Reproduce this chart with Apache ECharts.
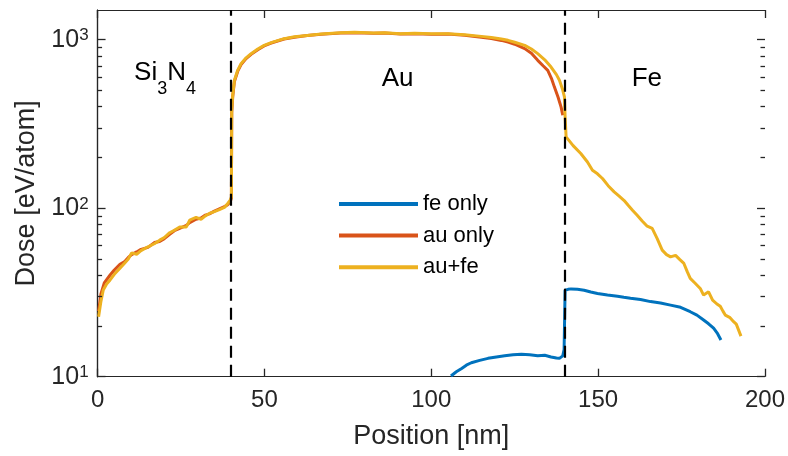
<!DOCTYPE html>
<html>
<head>
<meta charset="utf-8">
<script src="https://cdn.jsdelivr.net/npm/echarts@6/dist/echarts.min.js"></script>
<style>
  html, body { margin: 0; padding: 0; background: #fff; }
  #chart { width: 788px; height: 456px; }
</style>
</head>
<body>
<div id="chart"></div>
<script>
// Dose profiles across the Si3N4 / Au / Fe stack
const auFePos = [0.3, 1, 1.7, 2.7, 3.7, 5, 6.7, 8, 9.2, 10.2, 11.7, 13, 15.1, 17, 18.6, 20, 21.6, 23, 24.6, 26.6, 27.6, 29.5, 31, 32.3, 33.5, 35, 36.5, 38, 39, 39.8, 40.1,
  40.2, 40.5, 41, 42, 43, 44.5, 46, 48, 49.9, 52, 55.9, 59, 62.8, 67, 72.8, 77, 82.7, 86, 90.7, 95, 100, 105, 110, 115, 118, 121, 123, 125, 128, 130, 131.9, 134, 135.9, 137.5, 138.4, 139.3, 139.9,
  140.1, 140.4, 140.7, 142.5, 144.8, 146.8, 148.3, 149.8, 151.3, 153, 154.8, 156.3, 157.8, 159, 160.3, 161.7, 163.2, 164.7, 166.2, 167.7, 169.2, 170.5, 171.7, 173.2, 174.5, 175.7, 176.7, 177.6, 179, 180.6, 181.6, 183.1, 184.3, 185.6, 186.6, 187.4, 188.1, 189.4, 190.6, 191.4, 192.1, 192.8];
const auFeDose = [22.7, 28, 32.7, 35.5, 37.4, 40.5, 44, 47, 50, 54.3, 53.3, 56, 59, 61.5, 64.6, 67, 71.5, 74, 77.4, 77.4, 84.9, 88.1, 86, 90, 93.1, 95.5, 98.2, 101, 106.6, 112, 117,
  380, 470, 574, 660, 721, 780, 826, 880, 925, 960, 1014, 1040, 1060, 1080, 1100, 1105, 1094, 1100, 1086, 1090, 1083, 1085, 1070, 1046, 1030, 1008, 991, 965, 925, 880, 826, 760, 688, 620, 574, 510, 457,
  350, 265, 259, 235, 211, 188, 168, 160, 150, 136, 125, 118, 111, 104, 97.3, 90.8, 84, 78.2, 75.9, 66, 56.4, 53, 51.4, 52.5, 49.5, 47, 42, 38.3, 36, 33.4, 30.5, 31.9, 28.5, 27, 26.2, 24.5, 23.2, 22.5, 21.2, 20.5, 18.9, 17.4];

const auPos = [0.3, 1, 2, 3.7, 5, 6.7, 8, 9.2, 10.2, 11.7, 13, 15.1, 17, 18.6, 20, 21.6, 23, 24.6, 26.6, 27.6, 29.5, 31, 32.3, 33.5, 35, 36.5, 38, 39, 39.8, 40.1,
  40.2, 40.5, 41, 42, 43, 44.5, 46, 48, 49.9, 52, 55.9, 59, 62.8, 67, 72.8, 77, 82.7, 86, 90.7, 95, 100, 105, 110, 115, 118, 121, 123, 125, 128, 130, 131.9, 133.5, 134.9, 136, 136.9, 138, 138.9, 139.4];
const auDose = [24.5, 31, 36, 40, 43, 46.5, 48, 51, 53, 55, 57, 58.5, 62.5, 63.5, 66, 70, 73.5, 76, 79, 82, 86, 87.5, 91, 92.5, 96, 99, 102, 105, 110, 115,
  370, 460, 565, 650, 712, 772, 818, 872, 918, 955, 1010, 1035, 1058, 1076, 1095, 1098, 1090, 1094, 1082, 1085, 1078, 1080, 1062, 1035, 1015, 990, 968, 940, 885, 830, 754, 700, 658, 590, 523, 455, 398, 356];

const fePos = [105.9, 107.5, 109.1, 110.5, 112, 114.5, 117, 119.5, 122, 124.5, 127, 129.5, 131.9, 134, 135.9, 137.5, 138.4, 139.4, 139.8,
  140.1, 141, 141.9, 143.8, 145.8, 147.8, 149.8, 152.8, 155.8, 157.7, 159.7, 162.7, 165.7, 168.7, 171.7, 174.7, 177.6, 179.6, 181.6, 183.1, 184.6, 185.8, 186.8];
const feDose = [10.1, 10.7, 11.2, 11.7, 12.1, 12.5, 12.85, 13.1, 13.3, 13.5, 13.6, 13.5, 13.3, 13.4, 13.1, 12.9, 12.85, 13.3, 14.5,
  32.6, 33, 33.2, 33, 32.6, 31.8, 31.2, 30.5, 30, 29.6, 29.2, 28.7, 27.9, 27.4, 26.6, 25.8, 24.3, 23.2, 21.7, 20.6, 19.4, 18, 16.5];

// Layer interfaces and layer names
const interfaces = [40, 140];
const regionNames = ['Si3N4', 'Au', 'Fe'];
const regionPos = [20.2, 89.9, 164.6];
const regionDose = [586, 586, 586];

// Axis ranges and ticks
const xRange = [0, 200];
const yRange = [10, 1500];
const xTicks = [0, 50, 100, 150, 200];
const yMajor = [10, 100, 1000];
const yMinor = [20, 30, 40, 50, 60, 70, 80, 90, 200, 300, 400, 500, 600, 700, 800, 900];

const FONT = "'Liberation Sans', Arial, Helvetica, sans-serif";
const INK = '#262626';
const colors = { fe: '#0072BD', au: '#D95319', aufe: '#EDB120' };

// plot box and tick lengths (px)
const W = 788, H = 456;
const GRID = { left: 97.6, right: 19.7, top: 10, bottom: 79.3 };
const MAJOR_LEN = 8, MINOR_LEN = 4.5;
const plotW = W - GRID.left - GRID.right;
const plotH = H - GRID.top - GRID.bottom;
// tick length in data units: nm along x, decades along the log y axis
const nmPerPx = (xRange[1] - xRange[0]) / plotW;
const decPerPx = Math.log10(yRange[1] / yRange[0]) / plotH;

const zip = (xs, ys) => xs.map((x, i) => [x, ys[i]]);

const tickStyle = { color: INK, width: 1.3, type: 'solid' };
const seg = (a, b) => [{ coord: a, lineStyle: tickStyle }, { coord: b }];

// inward tick marks on all four sides of the box
const frameTicks = [];
const yTick = (v, len) => {
  frameTicks.push(seg([xRange[0], v], [xRange[0] + len * nmPerPx, v]));
  frameTicks.push(seg([xRange[1], v], [xRange[1] - len * nmPerPx, v]));
};
yMajor.forEach(v => yTick(v, MAJOR_LEN));
yMinor.forEach(v => yTick(v, MINOR_LEN));
const yStep = Math.pow(10, MAJOR_LEN * decPerPx);
xTicks.forEach(v => {
  frameTicks.push(seg([v, yRange[0]], [v, yRange[0] * yStep]));
  frameTicks.push(seg([v, yRange[1]], [v, yRange[1] / yStep]));
});

// dashed interface lines
const interfaceLines = interfaces.map(x => ({
  xAxis: x, lineStyle: { color: '#000', width: 2.2, type: [12, 7] }
}));

const regionLabel = (name) => {
  if (name === 'Si3N4') return '{n|Si}{s|3}{n|N}{s|4}';
  return '{m|' + name + '}';
};

const axisLine = { show: true, lineStyle: { color: INK, width: 1.2 } };

const chart = echarts.init(document.getElementById('chart'));

chart.setOption({
  animation: false,
  backgroundColor: '#fff',
  textStyle: { fontFamily: FONT },
  grid: GRID,
  legend: {
    orient: 'vertical', left: 334, top: 188,
    data: ['fe only', 'au only', 'au+fe'],
    itemWidth: 79, itemHeight: 4, itemGap: 9.6,
    icon: 'rect',
    textStyle: { fontFamily: FONT, fontSize: 22, color: '#000', lineHeight: 22 }
  },
  xAxis: [
    {
      type: 'value', min: xRange[0], max: xRange[1], interval: 50, position: 'bottom',
      splitLine: { show: false }, axisLine: axisLine, axisTick: { show: false },
      axisLabel: { show: true, fontSize: 24, color: INK, margin: 12, fontFamily: FONT },
      name: 'Position [nm]', nameLocation: 'middle', nameGap: 46,
      nameTextStyle: { fontSize: 27, color: INK, fontFamily: FONT }
    },
    {
      type: 'value', min: xRange[0], max: xRange[1], interval: 50, position: 'top',
      splitLine: { show: false }, axisLine: axisLine, axisTick: { show: false }, axisLabel: { show: false }
    }
  ],
  yAxis: [
    {
      type: 'log', logBase: 10, min: yRange[0], max: yRange[1], position: 'left',
      splitLine: { show: false }, minorTick: { show: false },
      axisLine: axisLine, axisTick: { show: false },
      axisLabel: {
        show: true, margin: 9, showMaxLabel: false,
        formatter: (v) => '{b|10}{e|' + Math.round(Math.log10(v)) + '}',
        rich: {
          b: { fontSize: 25, lineHeight: 25, color: INK, fontFamily: FONT, verticalAlign: 'bottom' },
          e: { fontSize: 17, lineHeight: 17, color: INK, fontFamily: FONT, verticalAlign: 'top', padding: [0, 0, 11, 0] }
        }
      },
      name: 'Dose [eV/atom]', nameLocation: 'middle', nameGap: 57,
      nameTextStyle: { fontSize: 27, color: INK, fontFamily: FONT }
    },
    {
      type: 'log', logBase: 10, min: yRange[0], max: yRange[1], position: 'right',
      splitLine: { show: false }, minorTick: { show: false },
      axisLine: axisLine, axisTick: { show: false }, axisLabel: { show: false }
    }
  ],
  series: [
    {
      name: 'fe only', type: 'line',
      data: zip(fePos, feDose), showSymbol: false, symbol: 'none',
      color: colors.fe, lineStyle: { width: 3, color: colors.fe }, z: 2
    },
    {
      name: 'au only', type: 'line',
      data: zip(auPos, auDose), showSymbol: false, symbol: 'none',
      color: colors.au, lineStyle: { width: 3, color: colors.au }, z: 3
    },
    {
      name: 'au+fe', type: 'line',
      data: zip(auFePos, auFeDose), showSymbol: false, symbol: 'none',
      color: colors.aufe, lineStyle: { width: 3, color: colors.aufe }, z: 4
    },
    {
      name: 'layers', type: 'line', data: [], z: 6,
      markLine: {
        silent: true, symbol: 'none', animation: false,
        label: { show: false },
        lineStyle: { color: '#000', width: 2.2, type: [12, 7] },
        emphasis: { disabled: true },
        data: interfaceLines.concat(frameTicks)
      },
      markPoint: {
        silent: true, symbol: 'circle', symbolSize: 1,
        itemStyle: { color: 'rgba(0,0,0,0)' },
        label: {
          show: true, position: 'inside',
          formatter: (p) => regionLabel(p.name),
          rich: {
            n: { fontSize: 26, lineHeight: 26, color: '#000', fontFamily: FONT, verticalAlign: 'top' },
            s: { fontSize: 18, lineHeight: 38, color: '#000', fontFamily: FONT, verticalAlign: 'bottom' },
            m: { fontSize: 26, lineHeight: 26, color: '#000', fontFamily: FONT }
          }
        },
        data: regionNames.map((n, i) => ({ name: n, coord: [regionPos[i], regionDose[i]] }))
      }
    }
  ]
});
</script>
</body>
</html>
